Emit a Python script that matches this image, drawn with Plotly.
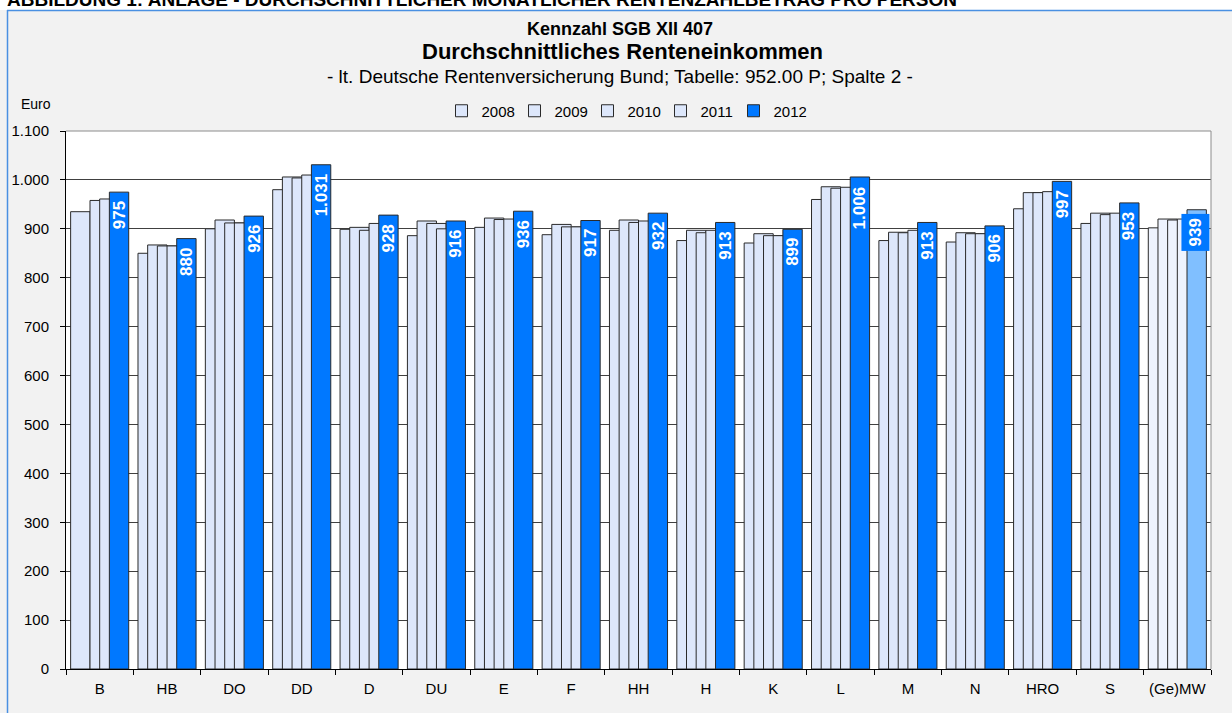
import plotly.graph_objects as go

categories = ["B", "HB", "DO", "DD", "D", "DU", "E", "F", "HH", "H", "K", "L", "M", "N", "HRO", "S", "(Ge)MW"]
years = ["2008", "2009", "2010", "2011", "2012"]
v2008 = [935, 850, 900, 980, 899, 886, 903, 888, 897, 876, 871, 960, 876, 873, 941, 911, 902]
v2009 = [None, 867, 918, 1006, 903, 916, 922, 909, 918, 897, 890, 986, 893, 892, 974, 932, 920]
v2010 = [958, 865, 912, 1004, 897, 911, 919, 904, 913, 892, 886, 983, 892, 890, 974, 929, 918]
v2011 = [961, 865, 912, 1010, 911, 900, 920, 904, 916, 897, 886, 985, 897, 890, 976, 932, 920]
v2012 = [975, 880, 926, 1031, 928, 916, 936, 917, 932, 913, 899, 1006, 913, 906, 997, 953, 939]
series = [v2008, v2009, v2010, v2011, v2012]

W, H = 1232, 713
L, R, T, B = 66, 21, 131, 44
PW, PH = W - L - R, H - T - B

def px(x):
    return (x - L) / PW

def py(y):
    return (H - B - y) / PH

FONT = "Liberation Sans, Arial, sans-serif"
LIGHT = "#DDE7FB"
LIGHT_AVG = "#EEF3FE"
BLUE = "#0078FF"
BLUE_AVG = "#80BFFF"
n = len(categories)
step = 0.1437
bw = 2 * step
offsets = [-3 * step, -2 * step, -step, 0, step]

fig = go.Figure()
for k, (yr, vals) in enumerate(zip(years, series)):
    if k < 4:
        cols = [LIGHT] * (n - 1) + [LIGHT_AVG]
    else:
        cols = [BLUE] * (n - 1) + [BLUE_AVG]
    fig.add_trace(go.Bar(
        name=yr, x=categories, y=vals,
        width=[bw] * n, offset=[offsets[k]] * n,
        marker=dict(color=cols, line=dict(color="#2A2A2A", width=1)),
        hoverinfo="x+y",
    ))

def fmt(v):
    return f"{v:,}".replace(",", ".")

annotations = []
center2012 = offsets[4] + bw / 2
for i, v in enumerate(v2012):
    is_avg = i == n - 1
    annotations.append(dict(
        x=i + center2012, y=v, xref="x", yref="y",
        text=f"<b>{fmt(v)}</b>", textangle=-90, showarrow=False,
        xanchor="center", yanchor="top", yshift=-4 if is_avg else -7,
        xshift=-1 if is_avg else 0,
        font=dict(family=FONT, size=17, color="white"),
        bgcolor=BLUE if is_avg else None, borderpad=4 if is_avg else 1,
    ))

annotations += [
    dict(x=px(5), y=py(12), xref="paper", yref="paper", xanchor="left", yanchor="bottom",
         text="<b>ABBILDUNG 1: ANLAGE - DURCHSCHNITTLICHER MONATLICHER RENTENZAHLBETRAG PRO PERSON</b>",
         showarrow=False, font=dict(family=FONT, size=19, color="black")),
    dict(x=px(620), y=py(29.5), xref="paper", yref="paper", xanchor="center", yanchor="middle",
         text="<b>Kennzahl SGB XII 407</b>", showarrow=False, borderpad=0,
         font=dict(family=FONT, size=18, color="black")),
    dict(x=px(622), y=py(51.5), xref="paper", yref="paper", xanchor="center", yanchor="middle",
         text="<b>Durchschnittliches Renteneinkommen</b>", showarrow=False, borderpad=0,
         font=dict(family=FONT, size=22, color="black")),
    dict(x=px(620), y=py(76), xref="paper", yref="paper", xanchor="center", yanchor="middle",
         text="- lt. Deutsche Rentenversicherung Bund; Tabelle: 952.00 P; Spalte 2 -", showarrow=False,
         borderpad=0, font=dict(family=FONT, size=19, color="black")),
    dict(x=px(19), y=py(104), xref="paper", yref="paper", xanchor="left", yanchor="middle",
         text="Euro", showarrow=False, font=dict(family=FONT, size=14, color="black")),
]

shapes = [
    dict(type="rect", xref="paper", yref="paper", x0=px(0), x1=px(W), y0=py(0), y1=py(10),
         fillcolor="white", line=dict(width=0), layer="above"),
    dict(type="line", xref="paper", yref="paper", x0=px(7.5), x1=px(7.5), y0=py(10), y1=py(H),
         line=dict(color="#4A90E2", width=1.5), layer="above"),
    dict(type="line", xref="paper", yref="paper", x0=px(7), x1=px(W), y0=py(10.5), y1=py(10.5),
         line=dict(color="#4A90E2", width=1.5), layer="above"),
    dict(type="line", xref="paper", yref="paper", x0=0, x1=1, y0=1, y1=1,
         line=dict(color="#8C8C8C", width=1), layer="above"),
    dict(type="line", xref="paper", yref="paper", x0=1, x1=1, y0=0, y1=1,
         line=dict(color="#8C8C8C", width=1), layer="above"),
]

fig.update_layout(
    width=W, height=H,
    margin=dict(l=L, r=R, t=T, b=B, autoexpand=False),
    paper_bgcolor="#F2F2F2", plot_bgcolor="white",
    barmode="overlay", separators=",.",
    font=dict(family=FONT, size=15, color="black"),
    showlegend=True,
    legend=dict(orientation="h", x=px(624), xanchor="center", y=py(111), yanchor="middle",
                font=dict(family=FONT, size=15), bgcolor="rgba(0,0,0,0)",
                itemwidth=30, traceorder="normal", entrywidth=28, entrywidthmode="pixels"),
    annotations=annotations, shapes=shapes,
    xaxis=dict(type="category", range=[-0.5, n - 0.5], tickson="boundaries",
               ticks="outside", ticklen=5, tickcolor="black", showline=True, linecolor="black",
               showgrid=False, tickfont=dict(size=15), ticklabelstandoff=6),
    yaxis=dict(range=[0, 1100], dtick=100, tick0=0, tickformat=",d", showgrid=True,
               gridcolor="#404040", gridwidth=1, zeroline=False, showline=True, linecolor="black",
               ticks="outside", ticklen=5, tickcolor="black", tickfont=dict(size=15),
               ticklabelstandoff=8),
)

fig.write_html("out.html", config={"displayModeBar": False},
               post_script="document.body.style.margin='0px';document.body.style.overflow='hidden';")
